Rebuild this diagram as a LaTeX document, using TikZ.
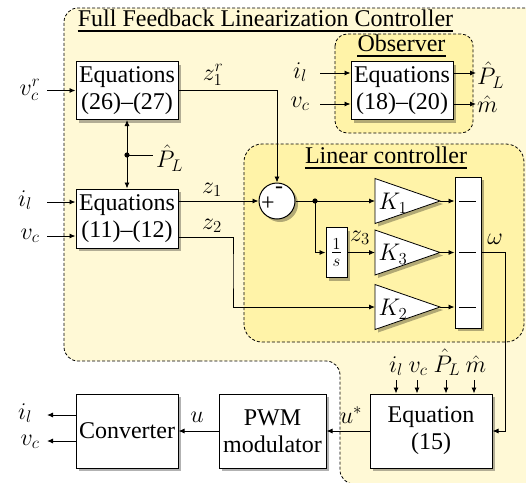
\RequirePackage{fix-cm}
\documentclass[tikz,border=0pt]{standalone}
\usepackage{fontspec}
\setmainfont{Liberation Serif}
\usetikzlibrary{arrows.meta,shadows}
\definecolor{outerbg}{RGB}{255,249,214}
\definecolor{innerbg}{RGB}{255,243,168}
\tikzset{
  every node/.style={font=\fontsize{24}{27}\selectfont},
  conn/.style={line width=0.9pt},
  arr/.style={conn,-{Latex[length=6pt,width=5pt]}},
  darr/.style={conn,{Latex[length=6pt,width=5pt]}-{Latex[length=6pt,width=5pt]}},
  shad/.style={drop shadow={shadow xshift=3pt,shadow yshift=-3pt,fill=black,opacity=0.3}},
  blk/.style={draw,line width=1pt,fill=white,align=center,inner sep=0pt,shad},
  region/.style={draw,line width=0.8pt,dash pattern=on 3pt off 2pt},
  tri/.style={draw,line width=0.8pt,fill=white,shad},
  lbl/.style={inner sep=0pt},
  ttlstyle/.style={inner sep=0pt,anchor=base},
  uline/.style={line width=1.3pt},
  dotmark/.style={fill=black},
}
\begin{document}
\begin{tikzpicture}[x=1pt,y=-1pt]
\useasboundingbox (0,0) rectangle (526,482);
% regions
\begin{scope}
\clip (0,0) rectangle (526,482);
\path[region,fill=outerbg,rounded corners=14pt] (200,361) -- (64,361) -- (64,8) -- (560,8) -- (560,484) -- (340,484) -- (340,361) [sharp corners] -- cycle;
\end{scope}
\path[region,fill=innerbg,rounded corners=12pt] (335,34) rectangle (473,133);
\path[region,fill=innerbg,rounded corners=18pt] (244,144) rectangle (524,342);

% titles
\node[ttlstyle] (ttl) at (265.5,26) {Full Feedback Linearization Controller};
\draw[uline] ([yshift=-5pt]ttl.base west) -- ([yshift=-5pt]ttl.base east);
\node[ttlstyle] (obsttl) at (401.5,51) {Observer};
\draw[uline] ([yshift=-5pt]obsttl.base west) -- ([yshift=-5pt]obsttl.base east);
\node[ttlstyle] (linttl) at (386,163) {Linear controller};
\draw[uline] ([yshift=-5pt]linttl.base west) -- ([yshift=-5pt]linttl.base east);

% blocks
\node[blk,minimum width=102pt,minimum height=58pt] (eqA) at (127,90.5) {Equations\\(26)--(27)};
\node[blk,minimum width=102pt,minimum height=59pt] (eqB) at (127,218.5) {Equations\\(11)--(12)};
\node[blk,minimum width=102pt,minimum height=58pt] (eqO) at (402,90.5) {Equations\\(18)--(20)};
\node[blk,minimum width=102pt,minimum height=74pt] (conv) at (127,431) {Converter};
\node[blk,minimum width=107pt,minimum height=74pt] (pwm) at (272.5,431) {PWM\\modulator};
\node[blk,minimum width=122pt,minimum height=74pt] (eqF) at (431,431) {Equation\\(15)};
\node[blk,minimum width=21pt,minimum height=50pt] (integ) at (336.5,252.5) {$\frac{1}{s}$};
\node[blk,minimum width=26pt,minimum height=151pt] (mux) at (468,252.5) {};
\node[draw,circle,line width=1pt,fill=white,minimum size=36pt,inner sep=0pt,shad] (sum) at (277,201) {};
\node[lbl] (plus) at (268,204) {+};
\node[lbl] (minus) at (279,190) {-};

% gains
\path[tri] (375,178.5) -- (440,201) -- (375,223.5) -- cycle;
\path[tri] (375,230) -- (440,252.5) -- (375,275) -- cycle;
\path[tri] (375,284.5) -- (440,307) -- (375,329.5) -- cycle;
\node[lbl] (k1) at (393,203) {$K_1$};
\node[lbl] (k3) at (393,254.5) {$K_3$};
\node[lbl] (k2) at (393,309) {$K_2$};
\coordinate (k1w) at (375,201);
\coordinate (k1e) at (440,201);
\coordinate (k3w) at (375,252.5);
\coordinate (k3e) at (440,252.5);
\coordinate (k2w) at (375,307);
\coordinate (k2e) at (440,307);

% mux dashes
\draw[conn] (459,201) -- (476,201);
\draw[conn] (459,252.5) -- (476,252.5);
\draw[conn] (459,307) -- (476,307);

% inputs left
\node[lbl] (vcr) at (30,90) {$v_c^r$};
\coordinate (vcrs) at (47,90.5);
\draw[arr] (vcrs) -- (vcrs -| eqA.west);
\node[lbl] (il1) at (25,200) {$i_l$};
\coordinate (il1s) at (47,202);
\draw[arr] (il1s) -- (il1s -| eqB.west);
\node[lbl] (vc1) at (30,236) {$v_c$};
\coordinate (vc1s) at (47,236);
\draw[arr] (vc1s) -- (vc1s -| eqB.west);

% P_L double arrow
\draw[darr] (eqA.south) -- (eqB.north);
\coordinate (pdot) at (127,155);
\fill[dotmark] (pdot) circle (2.6pt);
\node[lbl,anchor=west] (phat1) at (156,158) {$\hat P_L$};
\draw[conn] (pdot) -- (153,155);

% z1r
\node[lbl] (z1r) at (213,75) {$z_1^r$};
\draw[arr] (eqA.east) -| (sum.north);
% z1
\node[lbl] (z1) at (212,190) {$z_1$};
\draw[arr] (eqB.east |- sum.west) -- (sum.west);
% z2
\node[lbl] (z2) at (212,226) {$z_2$};
\coordinate (z2y) at (0,237);
\coordinate (z2bend) at (233,270);
\draw[arr] (eqB.east |- z2y) -| (z2bend) |- (k2w);

% sum to gains
\coordinate (br) at (315,201);
\draw[arr] (sum.east) -- (k1w);
\fill[dotmark] (br) circle (2.6pt);
\draw[arr] (br) |- (integ.west);
\draw[arr] (integ.east) -- (k3w);
\node[lbl] (z3) at (360,238) {$z_3$};

% gains to mux
\draw[arr] (k1e) -- (k1e -| mux.west);
\draw[arr] (k3e) -- (k3e -| mux.west);
\draw[arr] (k2e) -- (k2e -| mux.west);

% omega
\node[lbl] (om) at (495,239) {$\omega$};
\coordinate (wturn) at (505,300);
\draw[arr] (mux.east) -| (wturn) |- (eqF.east);

% observer io
\node[lbl] (il2) at (300,72) {$i_l$};
\coordinate (il2s) at (320,73);
\draw[arr] (il2s) -- (il2s -| eqO.west);
\node[lbl] (vc2) at (300,104) {$v_c$};
\coordinate (vc2s) at (320,104);
\draw[arr] (vc2s) -- (vc2s -| eqO.west);
\coordinate (phe) at (476,73);
\coordinate (mhe) at (476,104);
\draw[arr] (eqO.east |- phe) -- (phe);
\draw[arr] (eqO.east |- mhe) -- (mhe);
\node[lbl,anchor=west] (phat2) at (477,75) {$\hat P_L$};
\node[lbl,anchor=west] (mhat2) at (477,104) {$\hat m$};

% eq15 inputs
\coordinate (e1) at (396,380);
\coordinate (e2) at (417,380);
\coordinate (e3) at (446,380);
\coordinate (e4) at (474,380);
\draw[arr] (e1) -- (e1 |- eqF.north);
\draw[arr] (e2) -- (e2 |- eqF.north);
\draw[arr] (e3) -- (e3 |- eqF.north);
\draw[arr] (e4) -- (e4 |- eqF.north);
\node[lbl,anchor=base] (l1) at (396,372) {$i_l$};
\node[lbl,anchor=base] (l2) at (418,372) {$v_c$};
\node[lbl,anchor=base] (l3) at (447,372) {$\hat P_L$};
\node[lbl,anchor=base] (l4) at (476,372) {$\hat m$};

% bottom chain
\draw[arr] (eqF.west) -- (pwm.east);
\node[lbl] (ustar) at (351,415) {$u^*$};
\draw[arr] (pwm.west) -- (conv.east);
\node[lbl] (u) at (197,417) {$u$};
\coordinate (oil) at (47,415);
\coordinate (ovc) at (47,441);
\draw[arr] (conv.west |- oil) -- (oil);
\draw[arr] (conv.west |- ovc) -- (ovc);
\node[lbl] (il3) at (25,413) {$i_l$};
\node[lbl] (vc3) at (30,442) {$v_c$};
\end{tikzpicture}
\end{document}
